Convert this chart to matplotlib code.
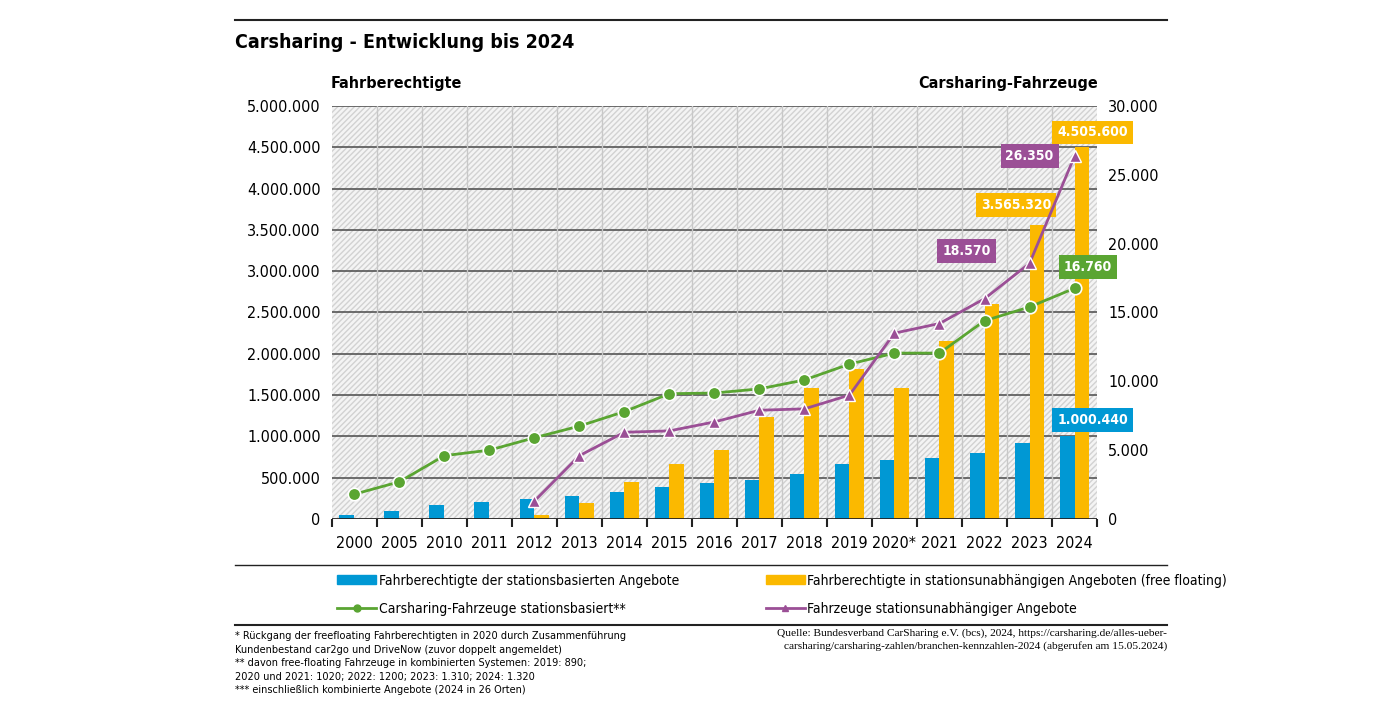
import matplotlib.pyplot as plt
from matplotlib.patches import Rectangle, Patch
from matplotlib.lines import Line2D
import numpy as np

plt.rcParams['font.family'] = ['DejaVu Sans']
plt.rcParams['font.stretch'] = 'condensed'

years = ['2000', '2005', '2010', '2011', '2012', '2013', '2014', '2015', '2016',
         '2017', '2018', '2019', '2020*', '2021', '2022', '2023', '2024']
# Fahrberechtigte (linke Achse)
stationsbasiert = [48000, 100000, 170000, 205000, 240000, 280000, 330000, 390000, 440000,
                   470000, 540000, 660000, 710000, 740000, 800000, 920000, 1000440]
free_floating = [0, 0, 0, 0, 50000, 190000, 450000, 670000, 840000,
                 1240000, 1580000, 1820000, 1590000, 2150000, 2600000, 3565320, 4505600]
# Fahrzeuge (rechte Achse)
fz_station = [1800, 2700, 4600, 5000, 5900, 6750, 7800, 9100, 9150,
              9450, 10100, 11250, 12050, 12050, 14400, 15400, 16760]
fz_free = [np.nan] * 4 + [1300, 4600, 6300, 6400, 7050, 7900, 8000, 9000,
                          13500, 14200, 16000, 18570, 26350]

BLUE, ORANGE, GREEN, PURPLE = '#0098d4', '#fbb900', '#5aa532', '#9b4f96'

def de(v):
    return f'{v:,.0f}'.replace(',', '.')

fig = plt.figure(figsize=(14, 7.02), dpi=100)
ax = fig.add_axes([0.237, 0.2607, 0.5466, 0.5883])
x = np.arange(len(years))
w = 0.33

ax.add_patch(Rectangle((0, 0), 1, 1, transform=ax.transAxes, facecolor='#f4f4f4',
                       edgecolor='#d2d2d2', hatch='//////', lw=0, zorder=0))
for s in ax.spines.values():
    s.set_visible(False)
ax.bar(x - w / 2, stationsbasiert, w, color=BLUE, zorder=3)
ax.bar(x + w / 2, free_floating, w, color=ORANGE, zorder=3)
ax.set_xlim(-0.5, len(years) - 0.5)
ax.set_ylim(0, 5000000)
ax.set_yticks(np.arange(0, 5000001, 500000))
ax.set_yticklabels([de(v) for v in np.arange(0, 5000001, 500000)], fontsize=11.5)
ax.set_xticks(x)
ax.set_xticklabels(years, fontsize=11.5)
ax.set_xticks(np.arange(-0.5, len(years)), minor=True)
ax.tick_params(axis='x', which='major', length=0, pad=12)
ax.tick_params(axis='x', which='minor', length=6, width=1.5, color='#222222')
ax.tick_params(axis='y', length=0, pad=8)
for yv in np.arange(500000, 5000001, 500000):
    ax.axhline(yv, color='#555555', lw=1.2, zorder=1)
for xv in np.arange(0.5, len(years) - 1):
    ax.axvline(xv, color='#c8c8c8', lw=1, zorder=1)
ax.axhline(0, color='#222222', lw=2, zorder=5)

ax2 = ax.twinx()
ax2.set_ylim(0, 30000)
ax2.set_yticks(np.arange(0, 30001, 5000))
ax2.set_yticklabels([de(v) for v in np.arange(0, 30001, 5000)], fontsize=11.5)
ax2.tick_params(axis='y', length=0, pad=8)
for s in ax2.spines.values():
    s.set_visible(False)
ax2.plot(x, fz_station, color=GREEN, lw=2, marker='o', ms=9, mec='white', mew=1.2, zorder=4)
ax2.plot(x, fz_free, color=PURPLE, lw=2, marker='^', ms=8, mec='white', mew=1, zorder=4)

def box(a, xv, yv, txt, col):
    a.text(xv, yv, txt, color='white', fontsize=10, fontweight='bold', ha='center', va='center',
           zorder=10, bbox=dict(boxstyle='square,pad=0.35', fc=col, ec='none'))

box(ax, 16.4, 4680000, de(free_floating[16]), ORANGE)
box(ax, 14.7, 3800000, de(free_floating[15]), ORANGE)
box(ax, 16.4, 1200000, de(stationsbasiert[16]), BLUE)
box(ax2, 15.0, 26350, de(fz_free[16]), PURPLE)
box(ax2, 13.6, 19450, de(fz_free[15]), PURPLE)
box(ax2, 16.3, 18300, de(fz_station[16]), GREEN)

fig.text(0.168, 0.932, 'Carsharing - Entwicklung bis 2024', fontsize=14, fontweight='bold')
fig.text(0.236, 0.874, 'Fahrberechtigte', fontsize=11.5, fontweight='bold')
fig.text(0.784, 0.874, 'Carsharing-Fahrzeuge', fontsize=11.5, fontweight='bold', ha='right')
for yl, lw in [(0.9715, 1.5), (0.195, 1), (0.110, 1.5)]:
    fig.add_artist(Line2D([0.168, 0.8336], [yl, yl], color='#222222', lw=lw))

handles = [Patch(color=BLUE), Patch(color=ORANGE),
           Line2D([], [], color=GREEN, marker='o', ms=5, lw=2),
           Line2D([], [], color=PURPLE, marker='^', ms=5, lw=2)]
labels = ['Fahrberechtigte der stationsbasierten Angebote',
          'Fahrberechtigte in stationsunabhängigen Angeboten (free floating)',
          'Carsharing-Fahrzeuge stationsbasiert**',
          'Fahrzeuge stationsunabhängiger Angebote']
for col, xa in [((0, 2), 0.232), ((1, 3), 0.538)]:
    fig.legend([handles[i] for i in col], [labels[i] for i in col], frameon=False,
               loc='center left', bbox_to_anchor=(xa, 0.153), fontsize=10,
               handlelength=2.8, handleheight=0.6, labelspacing=1.0, handletextpad=0.2)

fig.text(0.168, 0.101, '* Rückgang der freefloating Fahrberechtigten in 2020 durch Zusammenführung\n'
         'Kundenbestand car2go und DriveNow (zuvor doppelt angemeldet)\n'
         '** davon free-floating Fahrzeuge in kombinierten Systemen: 2019: 890;\n'
         '2020 und 2021: 1020; 2022: 1200; 2023: 1.310; 2024: 1.320\n'
         '*** einschließlich kombinierte Angebote (2024 in 26 Orten)',
         fontsize=7.8, va='top', linespacing=1.45)
fig.text(0.8336, 0.105, 'Quelle: Bundesverband CarSharing e.V. (bcs), 2024, https://carsharing.de/alles-ueber-\n'
         'carsharing/carsharing-zahlen/branchen-kennzahlen-2024 (abgerufen am 15.05.2024)',
         fontsize=8.2, va='top', ha='right', family=['Liberation Serif', 'DejaVu Serif'],
         linespacing=1.45)

fig.savefig('out.png', dpi=100)
